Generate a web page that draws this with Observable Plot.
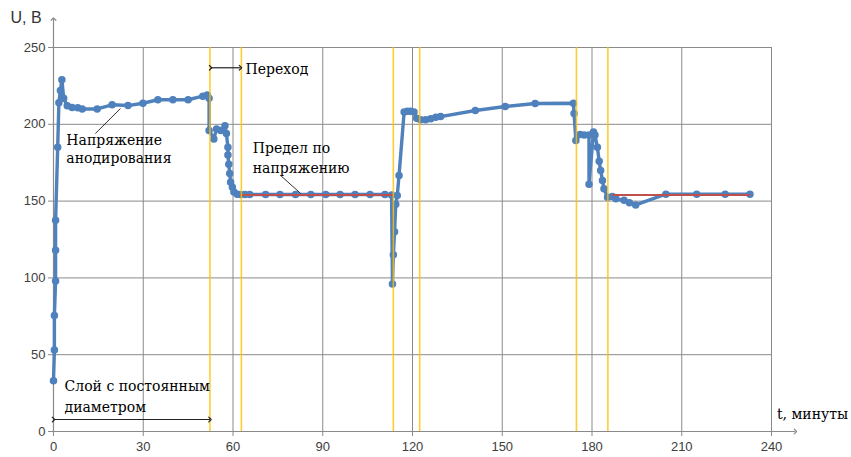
<!DOCTYPE html>
<html><head><meta charset="utf-8">
<script src="https://cdn.jsdelivr.net/npm/d3@7"></script>
<script src="https://cdn.jsdelivr.net/npm/@observablehq/plot@0.6"></script>
<style>html,body{margin:0;padding:0;background:#fff;}</style>
</head><body><div id="chart"></div>
<script>
// Anodizing voltage series (t in minutes, U in volts)
const times = [0,0.3,0.3,0.7,0.7,0.7,1.4,1.8,2.3,2.8,3.4,4.6,6.2,8.1,9.6,14.6,19.6,24.9,29.9,34.9,39.9,45,49.9,51.4,52,52,53.6,54.5,55.9,57.3,57.8,58.3,58.3,58.6,58.9,59.2,59.8,60.3,61.4,62.5,64,65.6,70.9,75.7,80.9,86,91,95.8,100.8,105.8,110.8,113,113.3,113.6,114,114.4,114.9,115.5,117.2,118.3,119.4,120.5,121.4,122.7,124.4,126.1,127.8,129.4,141,151,161,173.8,174,174.6,176,177.4,179,179,180.5,181,181.8,182.4,182.9,183.5,184,185.2,186.8,188,190.7,192.5,194.6,204.7,215,224.5,232.8];
const volts = [33,53,75.5,98,118,137.5,185,214,222,229,217,212,211,210.7,210,210,212.7,212.2,213.7,216,216,216,218.3,219,217,196,190.5,197,196,199,194,185,180,174,168,162.3,159,156,154.5,154.3,154.3,154.3,154.3,154.3,154.3,154.3,154.3,154.3,154.3,154.3,154.3,154,96,115,130,148,153.6,166.7,208,208.5,208.5,208,204,203,203,203.6,204.6,205,209,211.6,213.5,213.7,207,189.5,193.4,193,193,161,195,193,185,176,170,163.4,158,152.5,153,151.5,150.5,149,147.5,154.5,154.5,154.5,154.5];
// Voltage limit segments
const limitStart = [62.5, 186.8];
const limitEnd = [113.3, 232.8];
const limitValue = [154, 154];
// Transition markers (vertical yellow lines), minutes
const transitions = [52.3, 62.8, 113.6, 122.4, 174.8, 185.3];
// Tick labels
const xTicks = [0,30,60,90,120,150,180,210,240];
const yTicks = [0,50,100,150,200,250];
// Annotations
const noteText = ["Напряжение","анодирования","Переход","Предел по","напряжению","Слой с постоянным","диаметром","t, минуты"];
const noteT = [4.3,4.3,64.2,66.6,66.6,3.7,3.7,241.8];
const noteU = [189.5,177.7,235.7,184.2,171,29.3,15.6,11];
const leaderFrom = [[14.0,194],[75.9,166.7]];
const leaderTo = [[22.4,210.3],[82.6,155]];
const spanFrom = [[0,7.8],[52.5,236.8]];
const spanTo = [[52.3,7.8],[62.5,236.8]];

const series = times.map((t,i)=>({t, u: volts[i]}));
const limits = limitStart.map((s,i)=>({x1:s, x2:limitEnd[i], y:limitValue[i]}));
const notes = noteText.map((s,i)=>({s, t:noteT[i], u:noteU[i]}));
const leaders = leaderFrom.map((a,i)=>({x1:a[0],y1:a[1],x2:leaderTo[i][0],y2:leaderTo[i][1]}));
const spans = spanFrom.map((a,i)=>({x1:a[0],y1:a[1],x2:spanTo[i][0],y2:spanTo[i][1]}));
const axes = [{x1:0,y1:0,x2:248,y2:0},{x1:0,y1:0,x2:0,y2:268.5}];

const blue = "#4F81BD";
const chart = Plot.plot({
  width: 851, height: 457,
  marginLeft: 53, marginRight: 80, marginTop: 47, marginBottom: 26,
  x: {domain: [0,240]},
  y: {domain: [0,250]},
  style: {fontSize: "13px", color: "#404040", background: "#fff", overflow: "visible"},
  marks: [
    Plot.gridX(xTicks, {stroke: "#8a8a8a", strokeOpacity: 1}),
    Plot.gridY(yTicks, {stroke: "#8a8a8a", strokeOpacity: 1}),
    Plot.axisX(xTicks, {tickSize: 5, tickPadding: 5, label: null, stroke: "#8a8a8a", fontFamily: "Liberation Sans"}),
    Plot.axisY(yTicks, {tickSize: 5, tickPadding: 3, label: null, stroke: "#8a8a8a", fontFamily: "Liberation Sans"}),
    Plot.link(axes, {x1:"x1",y1:"y1",x2:"x2",y2:"y2", stroke:"#8a8a8a", strokeWidth:1.2, markerEnd:"arrow"}),
    Plot.line(series, {x:"t", y:"u", stroke: blue, strokeWidth: 3.4, strokeLinejoin:"round", curve:"linear"}),
    Plot.dot(series, {x:"t", y:"u", r: 3, fill: blue, stroke: blue}),
    Plot.link(limits, {x1:"x1", x2:"x2", y1:"y", y2:"y", stroke:"#C0504D", strokeWidth:2}),
    Plot.ruleX(transitions, {y1: 0, y2: 250, stroke:"#FFC000", strokeWidth:1.6, strokeOpacity:0.8}),
    Plot.link(leaders, {x1:"x1",y1:"y1",x2:"x2",y2:"y2", stroke:"#000", strokeWidth:0.8}),
    Plot.link(spans, {x1:"x1",y1:"y1",x2:"x2",y2:"y2", stroke:"#222", strokeWidth:1.2, markerStart:"arrow", markerEnd:"arrow"}),
    Plot.text(notes, {x:"t", y:"u", text:"s", textAnchor:"start", lineAnchor:"middle", fontSize:14, fill:"#000", fontFamily:"DejaVu Serif"}),
    Plot.text(["U, В"], {frameAnchor:"top-left", dx:-43, dy:-36, textAnchor:"start", fontSize:16, fill:"#333", fontFamily:"Liberation Sans"})
  ]
});
document.getElementById("chart").appendChild(chart);
</script></body></html>
